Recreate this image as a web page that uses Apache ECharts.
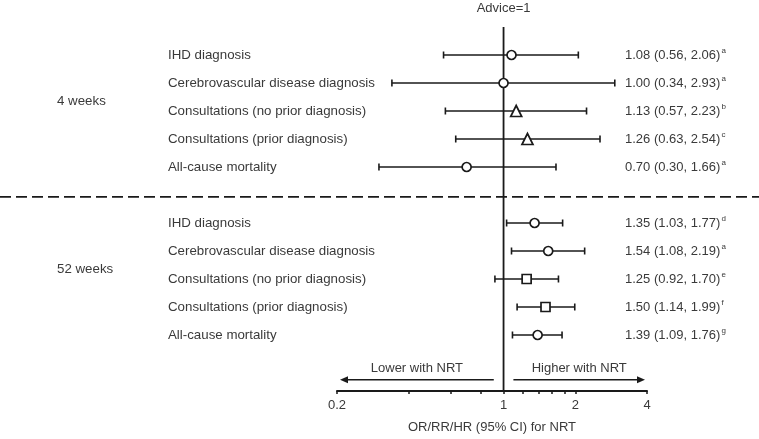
<!DOCTYPE html>
<html><head><meta charset="utf-8">
<script src="https://cdn.jsdelivr.net/npm/echarts@6/dist/echarts.min.js"></script>
<style>html,body{margin:0;padding:0;background:#fff}#c{width:759px;height:439px}</style>
</head><body><div id="c"></div>
<script>
// ---- data ----
const groups = ['4 weeks', '52 weeks'];
const outcomes = ['IHD diagnosis', 'Cerebrovascular disease diagnosis', 'Consultations (no prior diagnosis)', 'Consultations (prior diagnosis)', 'All-cause mortality'];
const est4 = [1.08, 1.00, 1.13, 1.26, 0.70];
const lo4  = [0.56, 0.34, 0.57, 0.63, 0.30];
const hi4  = [2.06, 2.93, 2.23, 2.54, 1.66];
const sup4 = ['a', 'a', 'b', 'c', 'a'];
const marker4 = ['circle', 'circle', 'triangle', 'triangle', 'circle'];
const est52 = [1.35, 1.54, 1.25, 1.50, 1.39];
const lo52  = [1.03, 1.08, 0.92, 1.14, 1.09];
const hi52  = [1.77, 2.19, 1.70, 1.99, 1.76];
const sup52 = ['d', 'a', 'e', 'f', 'g'];
const marker52 = ['circle', 'circle', 'square', 'square', 'circle'];
const xTickValues = [0.2, 0.4, 0.6, 0.8, 1, 1.2, 1.4, 1.6, 1.8, 2, 4];
const xLabelValues = [0.2, 1, 2, 4];
const refValue = 1;
const refLabel = 'Advice=1';
const arrowLower = [0.91, 0.2];
const arrowHigher = [1.1, 4];
const effectLabels = ['Lower with NRT', 'Higher with NRT'];
const axisTitle = 'OR/RR/HR (95% CI) for NRT';

// ---- layout ----
const X_MIN = 0.2, X_MAX = 4, Y_MAX = 13;
const FONT = '"Liberation Sans", Arial, sans-serif';
const TXT = '#3a3a3a', INK = '#1a1a1a';
const symSize = {circle: 9, triangle: 11, square: 9};

const rows = [];
groups.forEach((g, gi) => {
  const E = gi ? est52 : est4, L = gi ? lo52 : lo4, H = gi ? hi52 : hi4, S = gi ? sup52 : sup4, M = gi ? marker52 : marker4;
  outcomes.forEach((o, i) => rows.push({g: gi, y: gi * 6 + i + 1, name: o, est: E[i], lo: L[i], hi: H[i], sup: S[i], marker: M[i]}));
});
const fmt = v => v.toFixed(2);

const chart = echarts.init(document.getElementById('c'), null, {renderer: 'canvas'});
chart.setOption({
  animation: false,
  backgroundColor: '#fff',
  grid: {left: 337, right: 112, top: 27, bottom: 46, containLabel: false},
  xAxis: {
    type: 'log', logBase: 10, min: X_MIN, max: X_MAX, position: 'bottom',
    axisLine: {show: true, onZero: false, lineStyle: {color: INK, width: 2}},
    axisTick: {show: true, customValues: xTickValues, inside: false, length: 3, lineStyle: {color: INK, width: 1.5}},
    axisLabel: {customValues: xLabelValues, formatter: v => String(+(+v).toFixed(3)), color: TXT, fontSize: 13, fontFamily: FONT, margin: 8},
    minorTick: {show: false}, splitLine: {show: false},
    name: axisTitle, nameLocation: 'middle', nameGap: 30,
    nameTextStyle: {color: TXT, fontSize: 13, fontFamily: FONT}
  },
  yAxis: {type: 'value', inverse: true, min: 0, max: Y_MAX, show: false},
  series: [
    { // reference line, separator, arrows
      type: 'custom', clip: false, silent: true, z: 1,
      data: [[refValue, 0]],
      renderItem(params, api) {
        const top = api.coord([refValue, 0]);
        const bot = api.coord([refValue, Y_MAX]);
        const sepY = api.coord([refValue, 6.07])[1];
        const arrY = api.coord([refValue, 12.6])[1];
        const txtY = api.coord([refValue, 12.18])[1];
        const l0 = api.coord([arrowLower[0], 0])[0], l1 = api.coord([arrowLower[1], 0])[0] + 3;
        const h0 = api.coord([arrowHigher[0], 0])[0], h1 = api.coord([arrowHigher[1], 0])[0] - 2;
        const ls = {stroke: INK, lineWidth: 1.5};
        return {type: 'group', children: [
          {type: 'line', shape: {x1: top[0], y1: top[1], x2: bot[0], y2: bot[1]}, style: {stroke: INK, lineWidth: 1.8}},
          {type: 'text', style: {text: refLabel, x: top[0], y: top[1] - 19, align: 'center', verticalAlign: 'middle', fill: TXT, font: '13px ' + FONT}},
          {type: 'line', shape: {x1: 0, y1: sepY, x2: api.getWidth(), y2: sepY}, style: {stroke: INK, lineWidth: 1.8, lineDash: [11, 5]}},
          {type: 'line', shape: {x1: l0, y1: arrY, x2: l1 + 6, y2: arrY}, style: ls},
          {type: 'polygon', shape: {points: [[l1, arrY], [l1 + 8, arrY - 3.5], [l1 + 8, arrY + 3.5]]}, style: {fill: INK}},
          {type: 'line', shape: {x1: h0, y1: arrY, x2: h1 - 6, y2: arrY}, style: ls},
          {type: 'polygon', shape: {points: [[h1, arrY], [h1 - 8, arrY - 3.5], [h1 - 8, arrY + 3.5]]}, style: {fill: INK}},
          {type: 'text', style: {text: effectLabels[0], x: (l0 + l1) / 2, y: txtY, align: 'center', verticalAlign: 'middle', fill: TXT, font: '13px ' + FONT}},
          {type: 'text', style: {text: effectLabels[1], x: (h0 + h1) / 2, y: txtY, align: 'center', verticalAlign: 'middle', fill: TXT, font: '13px ' + FONT}}
        ]};
      }
    },
    { // error bars
      type: 'custom', clip: false, silent: true, z: 2,
      encode: {x: [0, 1], y: 2},
      data: rows.map(r => [r.lo, r.hi, r.y]),
      renderItem(params, api) {
        const a = api.coord([api.value(0), api.value(2)]);
        const b = api.coord([api.value(1), api.value(2)]);
        const h = 3.5, st = {stroke: INK, lineWidth: 1.6};
        return {type: 'group', children: [
          {type: 'line', shape: {x1: a[0], y1: a[1], x2: b[0], y2: b[1]}, style: st},
          {type: 'line', shape: {x1: a[0], y1: a[1] - h, x2: a[0], y2: a[1] + h}, style: st},
          {type: 'line', shape: {x1: b[0], y1: b[1] - h, x2: b[0], y2: b[1] + h}, style: st}
        ]};
      }
    },
    { // point estimates
      type: 'scatter', z: 3, silent: true,
      data: rows.map(r => ({value: [r.est, r.y], symbol: r.marker, symbolSize: symSize[r.marker]})),
      itemStyle: {color: '#fff', borderColor: INK, borderWidth: 1.7, opacity: 1}
    },
    { // row texts
      type: 'custom', clip: false, silent: true, z: 4,
      encode: {x: 0, y: 1},
      data: rows.map(r => [r.est, r.y]),
      renderItem(params, api) {
        const r = rows[params.dataIndex];
        const y = api.coord([X_MIN, r.y])[1];
        const xl = api.coord([X_MIN, r.y])[0] - 169;
        const xr = api.coord([X_MAX, r.y])[0] - 22;
        return {type: 'group', children: [
          {type: 'text', style: {text: r.name, x: xl, y: y, align: 'left', verticalAlign: 'middle', fill: TXT, font: '13.3px ' + FONT}},
          {type: 'text', style: {
            text: '{v|' + fmt(r.est) + ' (' + fmt(r.lo) + ', ' + fmt(r.hi) + ')}{s|' + r.sup + '}',
            x: xr, y: y, align: 'left', verticalAlign: 'middle',
            rich: {v: {fill: TXT, fontSize: 13, fontFamily: FONT}, s: {fill: TXT, fontSize: 8, fontFamily: FONT, padding: [0, 0, 8, 1]}}
          }}
        ]};
      }
    },
    { // group labels
      type: 'custom', clip: false, silent: true, z: 4,
      encode: {x: 0, y: 1},
      data: groups.map((g, gi) => [X_MIN, gi * 6 + 2.67]),
      renderItem(params, api) {
        const p = api.coord([api.value(0), api.value(1)]);
        return {type: 'text', style: {text: groups[params.dataIndex], x: 57, y: p[1], align: 'left', verticalAlign: 'middle', fill: TXT, font: '13.3px ' + FONT}};
      }
    }
  ]
});
</script>
</body></html>
